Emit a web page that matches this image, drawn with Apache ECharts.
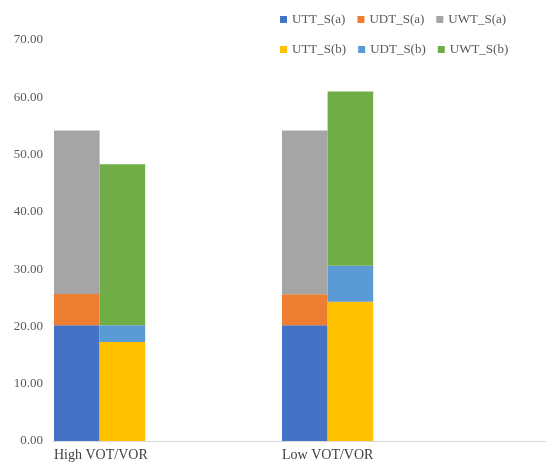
<!DOCTYPE html>
<html><head><meta charset="utf-8">
<script src="https://cdn.jsdelivr.net/npm/echarts@6/dist/echarts.min.js"></script>
<style>html,body{margin:0;padding:0;background:#fff}#c{width:546px;height:463px}</style>
</head><body><div id="c"></div>
<script>
const categories = ['High VOT/VOR', 'Low VOT/VOR'];
const yTicks = [0, 10, 20, 30, 40, 50, 60, 70];
const UTT_Sa = [20.2, 20.2];
const UDT_Sa = [5.45, 5.4];
const UWT_Sa = [28.55, 28.6];
const UTT_Sb = [17.3, 24.3];
const UDT_Sb = [2.9, 6.3];
const UWT_Sb = [28.1, 30.4];

const font = '"Liberation Serif", "Times New Roman", serif';
const BW = 45.6;
function bar(name, data, stack, color) {
  return { name, type: 'bar', stack, data, barWidth: BW, barGap: '0%', itemStyle: { color }, emphasis: { disabled: true } };
}
const series = [
  bar('UTT_S(a)', UTT_Sa, 'a', '#4472C4'),
  bar('UDT_S(a)', UDT_Sa, 'a', '#ED7D31'),
  bar('UWT_S(a)', UWT_Sa, 'a', '#A5A5A5'),
  bar('UTT_S(b)', UTT_Sb, 'b', '#FFC000'),
  bar('UDT_S(b)', UDT_Sb, 'b', '#5B9BD5'),
  bar('UWT_S(b)', UWT_Sb, 'b', '#70AD47'),
  bar('_c', [], 'c', '#fff'),
  bar('_d', [], 'd', '#fff'),
  bar('_e', [], 'e', '#fff')
];
const legendCommon = { icon: 'rect', itemWidth: 7, itemHeight: 7, itemGap: 12, textStyle: { fontFamily: font, fontSize: 13, color: '#595959' }, selectedMode: false };
const chart = echarts.init(document.getElementById('c'), null, { renderer: 'canvas' });
chart.setOption({
  animation: false,
  backgroundColor: '#fff',
  legend: [
    Object.assign({ data: ['UTT_S(a)', 'UDT_S(a)', 'UWT_S(a)'], left: 275, top: 8 }, legendCommon),
    Object.assign({ data: ['UTT_S(b)', 'UDT_S(b)', 'UWT_S(b)'], left: 275, top: 38 }, legendCommon)
  ],
  grid: [
    { left: 54, right: 36, top: 40, bottom: 22, containLabel: false },
    { left: 53, right: 0, top: 40, bottom: 22, containLabel: false }
  ],
  xAxis: [{
    type: 'category', data: categories, gridIndex: 0,
    axisLine: { show: false },
    axisTick: { show: false },
    axisLabel: {
      interval: 0, margin: 7, color: '#404040', fontFamily: font, fontSize: 14,
      formatter: v => '{a|' + v + '}',
      rich: { a: { width: 228, align: 'left', fontFamily: font, fontSize: 14, color: '#404040' } }
    }
  }, {
    type: 'category', data: [''], gridIndex: 1,
    axisLine: { lineStyle: { color: '#D9D9D9', width: 1 } },
    axisTick: { show: false }, axisLabel: { show: false }
  }],
  yAxis: [{
    type: 'value', gridIndex: 0, min: yTicks[0], max: yTicks[yTicks.length - 1], interval: 10,
    splitLine: { show: false }, axisLine: { show: false }, axisTick: { show: false },
    axisLabel: { margin: 11, color: '#595959', fontFamily: font, fontSize: 13, formatter: v => v.toFixed(2) }
  }, {
    type: 'value', gridIndex: 1, min: 0, max: 70, show: false
  }],
  series
});
</script></body></html>
